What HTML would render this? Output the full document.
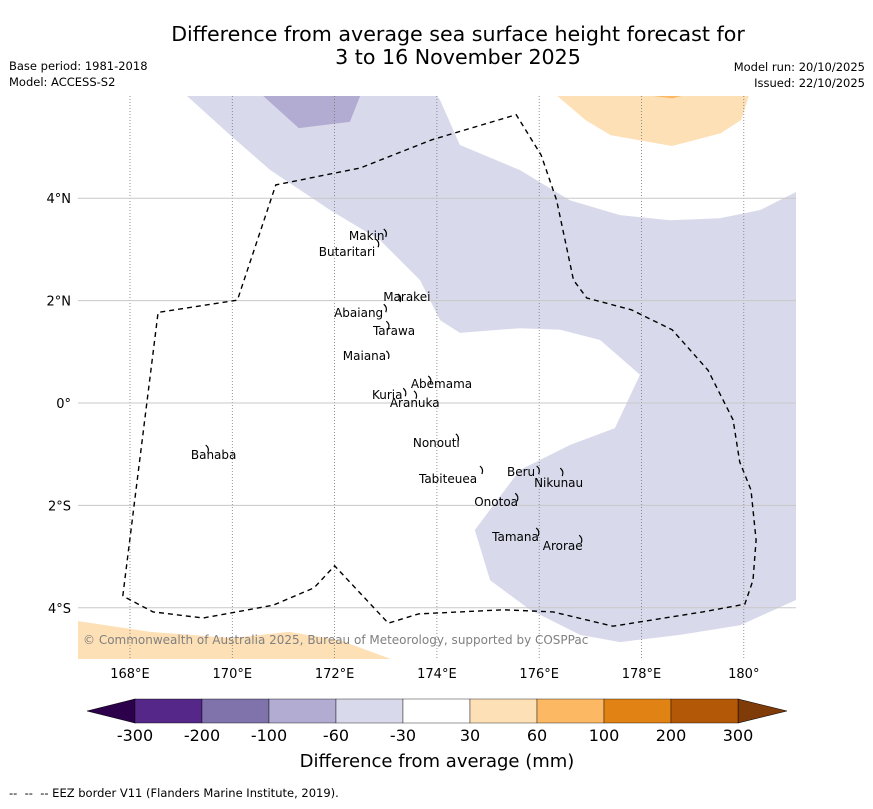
<!DOCTYPE html>
<html><head><meta charset="utf-8"><style>
body{margin:0;background:#fff;width:873px;height:804px;overflow:hidden;font-family:"Liberation Sans","DejaVu Sans",sans-serif}
svg text{font-family:"DejaVu Sans","Liberation Sans",sans-serif}
</style></head><body>
<svg id="s" width="873" height="804" viewBox="0 0 873 804">
<text x="458" y="41" text-anchor="middle" font-size="20.6">Difference from average sea surface height forecast for</text>
<text x="458" y="64" text-anchor="middle" font-size="20.6">3 to 16 November 2025</text>
<text x="9" y="70" font-size="11.5">Base period: 1981-2018</text>
<text x="9" y="86" font-size="11.5">Model: ACCESS-S2</text>
<text x="865" y="71" text-anchor="end" font-size="11.5">Model run: 20/10/2025</text>
<text x="865" y="87" text-anchor="end" font-size="11.5">Issued: 22/10/2025</text>
<defs><clipPath id="mc"><rect x="78" y="96" width="718" height="563"/></clipPath></defs>
<g id="map" clip-path="url(#mc)"></g>
<g id="ax"></g>
<text x="83" y="644" font-size="12" fill="#808080">© Commonwealth of Australia 2025, Bureau of Meteorology, supported by COSPPac</text>
<g id="cb"></g>
<text x="437" y="767" text-anchor="middle" font-size="18">Difference from average (mm)</text>
<text x="9" y="797" font-size="11.5" xml:space="preserve" style="white-space:pre">--  --  -- EEZ border V11 (Flanders Marine Institute, 2019).</text>
</svg>
<script>
const lonTicks=[168,170,172,174,176,178,180];
const lonLabels=["168°E","170°E","172°E","174°E","176°E","178°E","180°"];
const latTicks=[4,2,0,-2,-4];
const latLabels=["4°N","2°N","0°","2°S","4°S"];
const levels=[-300,-200,-100,-60,-30,30,60,100,200,300];
const levelColors=["#542788","#8073ac","#b2abd2","#d8daeb","#ffffff","#fee0b6","#fdb863","#e08214","#b35806"];
const lowColor="#2d004b", highColor="#7f3b08";
const purpleLight=[[169.11,6.0],[169.96,5.23],[170.74,4.55],[171.91,3.77],[172.89,3.18],[173.67,2.40],[174.06,1.62],[174.45,1.37],[175.62,1.46],[176.41,1.43],[177.19,1.23],[177.97,0.55],[177.48,-0.49],[176.60,-0.82],[175.62,-1.31],[174.74,-2.48],[175.04,-3.46],[175.82,-4.04],[176.80,-4.53],[177.58,-4.67],[178.75,-4.53],[179.93,-4.34],[181.1,-3.81],[181.1,4.16],[180.32,3.77],[179.53,3.61],[178.56,3.57],[177.58,3.67],[176.60,3.96],[175.62,4.55],[174.45,5.04],[174.06,5.92],[174.0,6.0]];
const purpleMid=[[170.6,6],[171.3,5.37],[172.3,5.49],[172.5,6]];
const orangeLight=[[176.35,6],[176.9,5.53],[177.4,5.23],[178.6,5.02],[179.55,5.27],[179.95,5.53],[180.1,6]];
const orangeMid=[[178.2,6],[178.6,5.95],[178.8,6]];
const orangeBottom=[[166.98,-4.26],[168.4,-4.47],[170.0,-4.59],[171.1,-4.47],[172.1,-4.63],[173.1,-5.0],[166.98,-5.0]];
const eez=[[167.86,-3.77],[168.55,1.77],[170.1,2.01],[170.85,4.26],[172.5,4.59],[173.9,5.14],[175.55,5.63],[176.04,4.84],[176.34,3.96],[176.67,2.4],[176.93,2.05],[177.8,1.82],[178.6,1.43],[179.3,0.64],[179.79,-0.33],[179.92,-1.15],[180.14,-1.7],[180.24,-2.68],[180.18,-3.46],[180.02,-3.93],[179.2,-4.08],[177.44,-4.36],[176.27,-4.08],[175.3,-4.04],[173.64,-4.12],[173.05,-4.3],[172.0,-3.18],[171.6,-3.61],[170.8,-3.95],[169.43,-4.2],[168.45,-4.08],[167.86,-3.77]];
const islandNames=["Makin","Butaritari","Marakei","Abaiang","Tarawa","Maiana","Abemama","Kuria","Aranuka","Banaba","Nonouti","Tabiteuea","Beru","Nikunau","Onotoa","Tamana","Arorae"];
const islandLon=[173.0,172.85,173.28,173.0,173.05,173.05,173.87,173.38,173.59,169.52,174.41,174.88,175.99,176.45,175.57,175.98,176.82];
const islandLat=[3.32,3.12,2.05,1.85,1.52,0.94,0.45,0.21,0.16,-0.9,-0.68,-1.31,-1.31,-1.35,-1.84,-2.52,-2.66];
const labelLon=[172.28,171.69,172.95,171.99,172.75,172.16,173.49,172.73,173.08,169.19,173.53,173.65,175.37,175.9,174.73,175.08,176.07];
const labelLat=[3.26,2.95,2.07,1.76,1.41,0.92,0.37,0.16,0.0,-1.02,-0.78,-1.48,-1.35,-1.56,-1.93,-2.62,-2.79];

const X=lon=>130+(lon-168)*51.15, Y=lat=>403-lat*51.2;
const NS="http://www.w3.org/2000/svg";
function mk(t,p,a){const e=document.createElementNS(NS,t);for(const k in a)e.setAttribute(k,a[k]);p.appendChild(e);return e;}
const map=document.getElementById('map'),ax=document.getElementById('ax'),cb=document.getElementById('cb');
const pts=a=>a.map(p=>X(p[0]).toFixed(1)+","+Y(p[1]).toFixed(1)).join(" ");
function poly(a,fill,name){const e=mk('polygon',map,{points:pts(a),fill:fill});

}
poly(purpleLight,"#d8daeb","anomaly-region-minus30-60");
poly(purpleMid,"#b2abd2","anomaly-region-minus60-100");
poly(orangeLight,"#fee0b6","anomaly-region-30-60-north");
poly(orangeMid,"#fdb863","anomaly-region-60-100");
poly(orangeBottom,"#fee0b6","anomaly-region-30-60-south");
lonTicks.forEach((v,i)=>{const l=mk('line',map,{x1:X(v),x2:X(v),y1:96,y2:659,stroke:"#777","stroke-width":0.8,"stroke-dasharray":"1,2"});


const t=mk('text',ax,{x:X(v),y:678,"text-anchor":"middle","font-size":13});t.textContent=lonLabels[i];

});
latTicks.forEach((v,i)=>{const l=mk('line',map,{x1:78,x2:796,y1:Y(v),y2:Y(v),stroke:"#c8c8c8","stroke-width":1});


const t=mk('text',ax,{x:71,y:Y(v)+5,"text-anchor":"end","font-size":13});t.textContent=latLabels[i];

});
const ez=mk('polyline',map,{points:pts(eez),fill:"none",stroke:"#000","stroke-width":1.4,"stroke-dasharray":"5,4"});


islandNames.forEach((n,i)=>{const d=mk('path',map,{d:`M${X(islandLon[i])-2},${Y(islandLat[i])-4} q4,3 2,8`,fill:"none",stroke:"#000","stroke-width":1.2});


const t=mk('text',map,{x:X(labelLon[i]),y:Y(labelLat[i])+4,"font-size":12});t.textContent=n;

});
const cx0=135,cw=67,cy=699,ch=24;
const lt=mk('polygon',cb,{points:`${cx0},${cy} ${cx0},${cy+ch} 87,${cy+ch/2}`,fill:lowColor,stroke:"#000","stroke-width":0.6});


const hx=cx0+cw*levelColors.length;
const ht=mk('polygon',cb,{points:`${hx},${cy} ${hx},${cy+ch} 787,${cy+ch/2}`,fill:highColor,stroke:"#000","stroke-width":0.6});


levelColors.forEach((c,i)=>{const r=mk('rect',cb,{x:cx0+cw*i,y:cy,width:cw,height:ch,fill:c,stroke:"#000","stroke-width":0.4});

});
levels.forEach((v,i)=>{const t=mk('text',cb,{x:cx0+cw*i,y:741,"text-anchor":"middle","font-size":16});t.textContent=v;

});
</script>
</body></html>
